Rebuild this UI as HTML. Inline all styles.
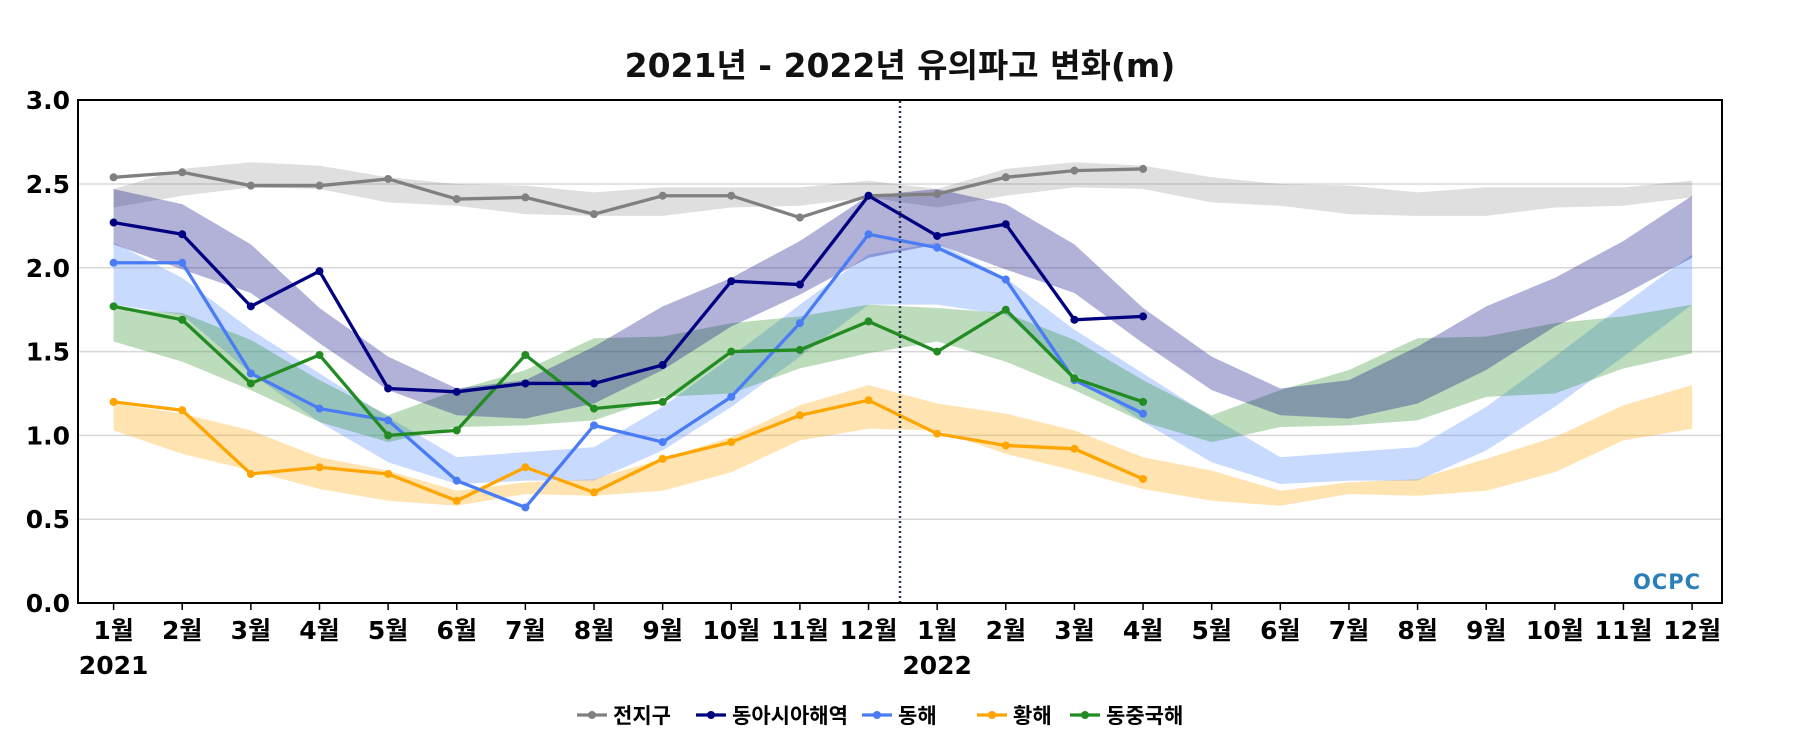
<!DOCTYPE html>
<html><head><meta charset="utf-8">
<style>
body{margin:0;background:#fff;}
svg text{font-family:"DejaVu Sans","Noto Sans CJK KR",sans-serif;}
</style></head>
<body>
<svg id="chart" width="1800" height="750" xmlns="http://www.w3.org/2000/svg">
<rect width="1800" height="750" fill="#fff"/>
<text x="900" y="77" text-anchor="middle" font-size="33" font-weight="bold" fill="#111">2021년 - 2022년 유의파고 변화(m)</text>
<g id="grid"></g><g id="bands"></g><g id="lines"></g><g id="axes"></g>
<line x1="900" y1="101" x2="900" y2="603" stroke="#2b3a55" stroke-width="2.5" stroke-dasharray="2,3"/>
<rect x="78" y="100" width="1644" height="503" fill="none" stroke="#000" stroke-width="2"/>
<text x="1667" y="589" text-anchor="middle" font-size="21" font-weight="bold" fill="#2a7fb8" letter-spacing="1">OCPC</text>
<g id="legend"></g>
</svg>
<script>
const months = ["1월","2월","3월","4월","5월","6월","7월","8월","9월","10월","11월","12월"];
const yTicks = [0,0.5,1,1.5,2,2.5,3];
const seriesNames = ["전지구","동아시아해역","동해","황해","동중국해"];
const seriesColors = ["#808080","#000080","#4a7cf5","#ffa500","#228b22"];
const bandColors = ["rgba(128,128,128,0.25)","rgba(0,0,128,0.3)","rgba(100,149,255,0.35)","rgba(255,165,0,0.3)","rgba(34,139,34,0.3)"];
const globalVals = [2.54,2.57,2.49,2.49,2.53,2.41,2.42,2.32,2.43,2.43,2.30,2.43,2.44,2.54,2.58,2.59];
const eastAsiaVals = [2.27,2.20,1.77,1.98,1.28,1.26,1.31,1.31,1.42,1.92,1.90,2.43,2.19,2.26,1.69,1.71];
const eastSeaVals = [2.03,2.03,1.37,1.16,1.09,0.73,0.57,1.06,0.96,1.23,1.67,2.20,2.12,1.93,1.33,1.13];
const yellowSeaVals = [1.20,1.15,0.77,0.81,0.77,0.61,0.81,0.66,0.86,0.96,1.12,1.21,1.01,0.94,0.92,0.74];
const ecsVals = [1.77,1.69,1.31,1.48,1.00,1.03,1.48,1.16,1.20,1.50,1.51,1.68,1.50,1.75,1.34,1.20];
const globalHi = [2.47,2.59,2.63,2.61,2.54,2.50,2.49,2.45,2.48,2.48,2.48,2.52];
const globalLo = [2.36,2.43,2.48,2.47,2.39,2.37,2.32,2.31,2.31,2.36,2.37,2.42];
const eastAsiaHi = [2.47,2.38,2.14,1.76,1.47,1.28,1.33,1.53,1.77,1.94,2.16,2.43];
const eastAsiaLo = [2.14,1.99,1.85,1.55,1.27,1.12,1.10,1.19,1.39,1.65,1.84,2.06];
const eastSeaHi = [2.15,1.94,1.63,1.37,1.11,0.87,0.90,0.93,1.17,1.47,1.78,2.08];
const eastSeaLo = [1.78,1.72,1.37,1.08,0.84,0.71,0.73,0.73,0.91,1.17,1.47,1.78];
const yellowSeaHi = [1.19,1.13,1.03,0.87,0.79,0.67,0.72,0.74,0.86,0.99,1.18,1.30];
const yellowSeaLo = [1.03,0.89,0.79,0.68,0.61,0.58,0.65,0.64,0.67,0.78,0.97,1.04];
const ecsHi = [1.76,1.73,1.57,1.33,1.12,1.27,1.39,1.58,1.59,1.67,1.71,1.78];
const ecsLo = [1.56,1.44,1.27,1.08,0.96,1.05,1.06,1.09,1.23,1.25,1.40,1.49];

const NS="http://www.w3.org/2000/svg";
const X0=113.6, DX=68.63, Y0=603, PY=167.6;
function xs(i){return X0+i*DX;}
function ys(v){return Y0-v*PY;}
function mk(tag,attrs,parent){const e=document.createElementNS(NS,tag);for(const k in attrs)e.setAttribute(k,attrs[k]);parent.appendChild(e);return e;}
const grid=document.getElementById('grid'),axes=document.getElementById('axes'),bandsG=document.getElementById('bands'),linesG=document.getElementById('lines'),legend=document.getElementById('legend');

yTicks.forEach(t=>{
  if(t>0&&t<3){const g=mk('line',{x1:78,x2:1722,y1:ys(t),y2:ys(t),stroke:'#d8d8d8','stroke-width':1.5},grid);
  
  }
  const tx=mk('text',{x:70,y:ys(t)+9,'text-anchor':'end','font-size':25,'font-weight':'bold',fill:'#000'},axes);
  tx.textContent=t.toFixed(1);
  
  
});
for(let i=0;i<24;i++){
  const tk=mk('line',{x1:xs(i),x2:xs(i),y1:603,y2:610,stroke:'#000','stroke-width':1.5},axes);
  
  
  const tx=mk('text',{x:xs(i),y:639,'text-anchor':'middle','font-size':25,'font-weight':'bold',fill:'#000'},axes);
  tx.textContent=months[i%12];
  
  
}
["2021","2022"].forEach((yr,k)=>{
  const tx=mk('text',{x:xs(k*12),y:674,'text-anchor':'middle','font-size':25,'font-weight':'bold',fill:'#000'},axes);
  tx.textContent=yr;
  
  
});

const his=[globalHi,eastAsiaHi,eastSeaHi,yellowSeaHi,ecsHi], los=[globalLo,eastAsiaLo,eastSeaLo,yellowSeaLo,ecsLo];
[0,3,2,4,1].forEach(s=>{
  const top=[],bot=[];
  for(let i=0;i<24;i++){top.push(xs(i)+','+ys(his[s][i%12]));bot.unshift(xs(i)+','+ys(los[s][i%12]));}
  const p=mk('polygon',{points:top.concat(bot).join(' '),fill:bandColors[s]},bandsG);
  
  
});
const vals=[globalVals,eastAsiaVals,eastSeaVals,yellowSeaVals,ecsVals];
[0,3,2,4,1].forEach(s=>{
  const pts=vals[s].map((v,i)=>xs(i)+','+ys(v)).join(' ');
  const pl=mk('polyline',{points:pts,fill:'none',stroke:seriesColors[s],'stroke-width':3.3},linesG);
  
  
  vals[s].forEach((v,i)=>{
    const c=mk('circle',{cx:xs(i),cy:ys(v),r:4,fill:seriesColors[s]},linesG);
    
    
  });
});
const legX=[577,696,862,977,1070];
seriesNames.forEach((n,s)=>{
  const x=legX[s];
  const l=mk('line',{x1:x,x2:x+30,y1:715,y2:715,stroke:seriesColors[s],'stroke-width':3.3},legend);
  
  
  const c=mk('circle',{cx:x+15,cy:715,r:4,fill:seriesColors[s]},legend);
  
  
  const t=mk('text',{x:x+36,y:723,'font-size':21,'font-weight':'bold',fill:'#000'},legend);
  t.textContent=n;
  
  
});
</script>
</body></html>
